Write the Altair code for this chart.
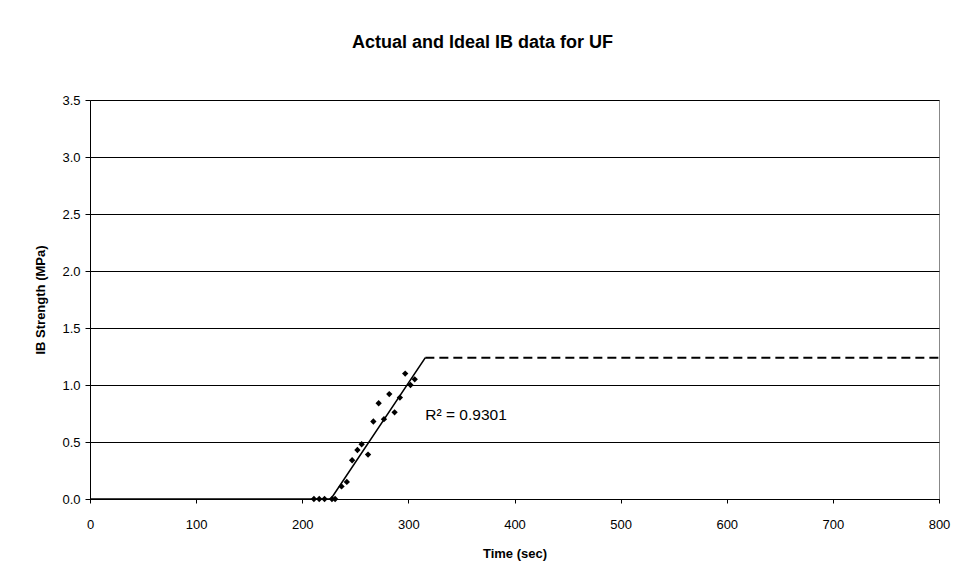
import altair as alt
import pandas as pd

# Measured IB data (actual)
actual_time = [211, 216, 221, 228, 231, 237, 242, 247, 252, 256, 262, 267, 272, 277, 282, 287, 292, 297, 302, 306]
actual_strength = [0.0, 0.0, 0.0, 0.0, 0.0, 0.11, 0.15, 0.34, 0.43, 0.48, 0.39, 0.68, 0.84, 0.70, 0.92, 0.76, 0.89, 1.10, 1.00, 1.05]

# Ideal curve: linear rise (fit) then plateau
rise_time = [0, 227, 316]
rise_strength = [0.0, 0.0, 1.24]
plateau_time = [316, 800]
plateau_strength = [1.24, 1.24]

# Annotation
note_time = [316]
note_strength = [0.735]
note_text = ["R\u00b2 = 0.9301"]

df_actual = pd.DataFrame({"t": actual_time, "s": actual_strength})
df_rise = pd.DataFrame({"t": rise_time, "s": rise_strength})
df_plateau = pd.DataFrame({"t": plateau_time, "s": plateau_strength})
df_note = pd.DataFrame({"t": note_time, "s": note_strength, "label": note_text})

FONT = "Liberation Sans"

x_scale = alt.Scale(domain=[0, 800], nice=False, zero=True)
y_scale = alt.Scale(domain=[0, 3.5], nice=False)

x_enc = alt.X("t:Q", scale=x_scale, title="Time (sec)",
              axis=alt.Axis(values=[0, 100, 200, 300, 400, 500, 600, 700, 800],
                            format="d", grid=False, tickSize=4, labelPadding=15,
                            labelFlush=False, titlePadding=16,
                            domainColor="black", tickColor="black"))
y_enc = alt.Y("s:Q", scale=y_scale, title="IB Strength (MPa)",
              axis=alt.Axis(values=[0, 0.5, 1.0, 1.5, 2.0, 2.5, 3.0, 3.5],
                            format=".1f", grid=True, gridColor="black", gridWidth=1,
                            tickSize=5, labelPadding=5, titlePadding=14, labelFlush=False,
                            domainColor="black", tickColor="black"))

points = alt.Chart(df_actual).mark_point(shape="diamond", filled=True, color="black", size=40, opacity=1).encode(
    x=x_enc, y=y_enc)

rise = alt.Chart(df_rise).mark_line(color="black", strokeWidth=1.6).encode(
    x=alt.X("t:Q", scale=x_scale), y=alt.Y("s:Q", scale=y_scale))

plateau = alt.Chart(df_plateau).mark_line(color="black", strokeWidth=2, strokeDash=[9, 5]).encode(
    x=alt.X("t:Q", scale=x_scale), y=alt.Y("s:Q", scale=y_scale))

note = alt.Chart(df_note).mark_text(align="left", baseline="middle", fontSize=15.5, font=FONT, color="black").encode(
    x=alt.X("t:Q", scale=x_scale), y=alt.Y("s:Q", scale=y_scale), text="label:N")

chart = alt.layer(points, rise, plateau, note).properties(
    width=849,
    height=399,
    title=alt.TitleParams("Actual and Ideal IB data for UF", fontSize=18, font=FONT,
                          fontWeight="bold", color="black", offset=42, dx=-32),
    autosize=alt.AutoSizeParams(type="none"),
    padding={"left": 82, "top": 92, "right": 13, "bottom": 70},
).configure_view(
    stroke="#888888", strokeWidth=1
).configure_axis(
    labelFont=FONT, titleFont=FONT, labelFontSize=13, titleFontSize=13,
    labelColor="black", titleColor="black", titleFontWeight="bold"
)

chart.save("out.html", embed_options={"renderer": "svg", "actions": False})
